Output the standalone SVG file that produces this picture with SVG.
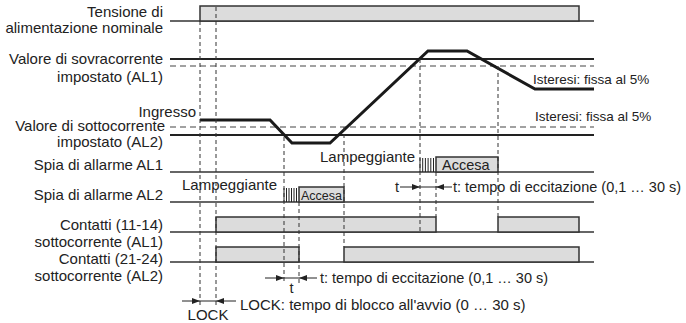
<svg xmlns="http://www.w3.org/2000/svg" width="686" height="323" viewBox="0 0 686 323">
<style>
text{font-family:"Liberation Sans",Arial,sans-serif;font-size:15px;fill:#222}
.lbl{text-anchor:end}
.base{stroke:#333;stroke-width:1.3;fill:none}
.box{stroke:#333;stroke-width:1.5;fill:#dcdcdc}
.sig{stroke:#1a1a1a;stroke-width:3;fill:none;stroke-linejoin:miter}
.hd{stroke:#444;stroke-width:1.2;stroke-dasharray:6 4;fill:none}
.vd{stroke:#333;stroke-width:1;stroke-dasharray:4 3;fill:none}
.dim{stroke:#222;stroke-width:1;fill:none}
.arr{stroke:#222;stroke-width:1;fill:none;marker-end:url(#ah)}
.hatch{stroke:#222;stroke-width:1}
</style>
<defs>
<marker id="ah" viewBox="0 0 8 6" refX="8" refY="3" markerWidth="8" markerHeight="6" orient="auto" markerUnits="userSpaceOnUse"><path d="M0,0 L8,3 L0,6z" fill="#222"/></marker>
</defs>

<g id="power">
<text class="lbl" x="163" y="17">Tensione di</text>
<text class="lbl" x="163" y="33">alimentazione nominale</text>
<path class="base" d="M170,21 H594"/>
<rect class="box" x="200" y="6" width="379" height="15"/>
</g>

<g id="overcurrent">
<text class="lbl" x="163" y="64">Valore di sovracorrente</text>
<text class="lbl" x="163" y="82">impostato (AL1)</text>
<path class="base" d="M170,59 H594" style="stroke-width:2.2;stroke:#222"/>
<path class="hd" d="M170,66 H594"/>
<text x="533" y="84" style="font-size:13.5px">Isteresi: fissa al 5%</text>
</g>

<g id="undercurrent">
<text class="lbl" x="196" y="117">Ingresso</text>
<text class="lbl" x="165" y="131">Valore di sottocorrente</text>
<text class="lbl" x="163" y="147">impostato (AL2)</text>
<path class="hd" d="M170,127 H594"/>
<path class="base" d="M170,135 H594" style="stroke-width:2.2;stroke:#222"/>
<text x="535" y="121" style="font-size:13.5px">Isteresi: fissa al 5%</text>
</g>

<g id="input">
<path class="sig" d="M200,120 L270,120 L292,143 L330,143 L428,51 L467,51 L535,89 L594,89"/>
</g>

<g id="spia-al1">
<text class="lbl" x="163" y="170">Spia di allarme AL1</text>
<path class="base" d="M170,172 H594"/>
<text x="320" y="162">Lampeggiante</text>
<g class="hatch">
<path d="M420,158 V172 M422.7,158 V172 M425.4,158 V172 M428.1,158 V172 M430.8,158 V172 M433.5,158 V172"/>
</g>
<rect class="box" x="436" y="157" width="62" height="15"/>
<text x="442" y="169.5" style="font-size:14.5px">Accesa</text>
</g>

<g id="spia-al2">
<text class="lbl" x="163" y="200">Spia di allarme AL2</text>
<path class="base" d="M170,202 H594"/>
<text x="182" y="190">Lampeggiante</text>
<g class="hatch">
<path d="M284,188 V202 M286.5,188 V202 M289,188 V202 M291.5,188 V202 M294,188 V202 M296.5,188 V202"/>
</g>
<rect class="box" x="299" y="187" width="45" height="15"/>
<text x="301" y="200" style="font-size:12.5px">Accesa</text>
</g>

<g id="contact-al1">
<text class="lbl" x="163" y="230">Contatti (11-14)</text>
<text class="lbl" x="163" y="247">sottocorrente (AL1)</text>
<path class="base" d="M170,232 H594"/>
<rect class="box" x="216" y="217" width="220" height="15"/>
<rect class="box" x="498" y="217" width="81" height="15"/>
</g>

<g id="contact-al2">
<text class="lbl" x="163" y="264">Contatti (21-24)</text>
<text class="lbl" x="163" y="281">sottocorrente (AL2)</text>
<path class="base" d="M170,262 H594"/>
<rect class="box" x="216" y="247" width="83" height="15"/>
<rect class="box" x="344" y="247" width="235" height="15"/>
</g>

<g id="connectors">
<path class="vd" d="M200,21 V306"/>
<path class="vd" d="M216,7 V306"/>
<path class="vd" d="M284,137 V283"/>
<path class="vd" d="M299,202 V283"/>
<path class="vd" d="M344,127 V247"/>
<path class="vd" d="M420,59 V232"/>
<path class="vd" d="M436,172 V217"/>
<path class="vd" d="M498,66 V217"/>

<path class="arr" d="M400,187 H420"/>
<path class="dim" d="M420,187 H436"/>
<path class="arr" d="M452,187 H436"/>

<path class="arr" d="M265,278 H284"/>
<path class="dim" d="M284,278 H299"/>
<path class="arr" d="M317,278 H299"/>

<path class="arr" d="M182,301 H200"/>
<path class="dim" d="M200,301 H216"/>
<path class="arr" d="M236,301 H216"/>
</g>

<g id="annotations">
<text x="399" y="192" text-anchor="end" style="font-size:14.5px">t</text>
<text x="453" y="192" style="font-size:14.5px">t: tempo di eccitazione (0,1 … 30 s)</text>
<text x="291.5" y="293" text-anchor="middle" style="font-size:14.5px">t</text>
<text x="320" y="283" style="font-size:14.5px">t: tempo di eccitazione (0,1 … 30 s)</text>
<text x="208" y="320" text-anchor="middle">LOCK</text>
<text x="240" y="310">LOCK: tempo di blocco all'avvio (0 … 30 s)</text>
</g>
</svg>
